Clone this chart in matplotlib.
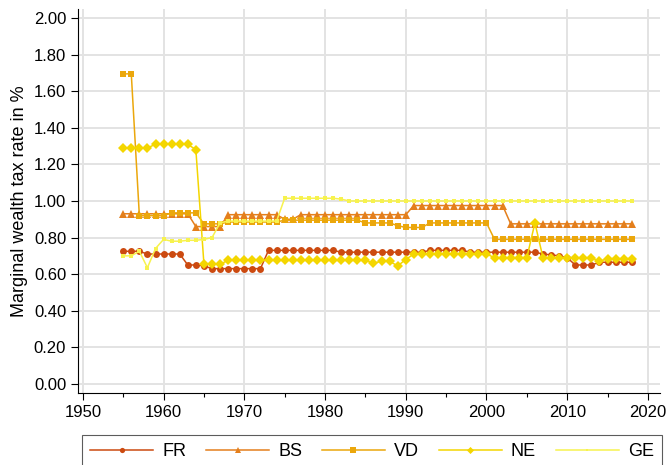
import numpy as np
import matplotlib
matplotlib.use("Agg")
import matplotlib.pyplot as plt

plt.rcParams['font.family'] = ['Liberation Sans', 'DejaVu Sans']

# Marginal wealth tax rates by canton, 1955-2018
years = list(range(1955, 2019))

fr = ([0.725] * 3 + [0.71] * 5 + [0.65] * 2 + [0.645] + [0.63] * 7 + [0.73] * 9
      + [0.72] * 11 + [0.73] * 5 + [0.72] * 9 + [0.71, 0.705, 0.70, 0.69]
      + [0.65] * 3 + [0.665] * 5)
bs = ([0.93] * 9 + [0.86] * 4 + [0.925] * 7 + [0.90] * 2 + [0.925] * 14
      + [0.975] * 12 + [0.875] * 16)
vd = ([1.695] * 2 + [0.92] * 4 + [0.935] * 4 + [0.875] * 3 + [0.885] * 7
      + [0.895] * 10 + [0.88] * 4 + [0.865] + [0.855] * 3 + [0.88] * 8 + [0.79] * 18)
ne = ([1.29] * 4 + [1.31] * 5 + [1.28] + [0.655] * 3 + [0.675] * 18 + [0.66]
      + [0.67] * 2 + [0.645] + [0.68] + [0.71] * 10 + [0.69] * 5 + [0.88]
      + [0.69] * 7 + [0.67] + [0.685] * 4)
ge = ([0.70, 0.70, 0.725, 0.635, 0.74, 0.79, 0.78, 0.78, 0.785, 0.785, 0.79, 0.80, 0.88]
      + [0.89] * 7 + [1.015] * 7 + [1.01] + [1.0] * 36)

series = [
    ("FR", fr, "#cc4a10", "o", 5.0),
    ("BS", bs, "#e47f1c", "^", 5.5),
    ("VD", vd, "#eba70c", "s", 5.0),
    ("NE", ne, "#f4d600", "D", 4.8),
    ("GE", ge, "#f7f24e", "s", 2.8),
]

fig = plt.figure(figsize=(6.69, 4.65), dpi=100)
ax = fig.add_axes([0.1166, 0.1548, 0.87, 0.826])

for name, vals, col, mk, ms in series:
    ax.plot(years, vals, color=col, marker=mk, markersize=ms, linewidth=1.1,
            markeredgewidth=0, label=name)

ax.set_xlim(1949.4, 2021.5)
ax.set_ylim(-0.05, 2.05)
ax.set_xticks(range(1950, 2021, 10))
ax.set_xticks(range(1955, 2021, 10), minor=True)
ax.set_yticks(np.arange(0, 2.01, 0.2))
ax.set_yticklabels([f"{v:.2f}" for v in np.arange(0, 2.01, 0.2)])
ax.tick_params(axis='both', labelsize=12, direction='out', length=5, width=0.8)
ax.tick_params(axis='x', which='minor', length=3, width=0.8)
ax.set_ylabel("Marginal wealth tax rate in %", fontsize=13, labelpad=4)

ax.grid(True, which='major', color='#e3e3e3', linewidth=1.4)
ax.set_axisbelow(True)
for s in ['top', 'right']:
    ax.spines[s].set_visible(False)
for s in ['left', 'bottom']:
    ax.spines[s].set_linewidth(0.8)

leg = fig.legend(loc='upper left', bbox_to_anchor=(0.1226, -0.04, 0.867, 0.1045),
                 mode='expand', ncol=5, fontsize=13, frameon=True, fancybox=False,
                 handlelength=3.5, handletextpad=0.5, borderaxespad=0,
                 markerscale=0.75, borderpad=0.45, columnspacing=1.5)
leg.get_frame().set_edgecolor('#333333')
leg.get_frame().set_linewidth(0.8)

fig.savefig("out.png", dpi=100)
